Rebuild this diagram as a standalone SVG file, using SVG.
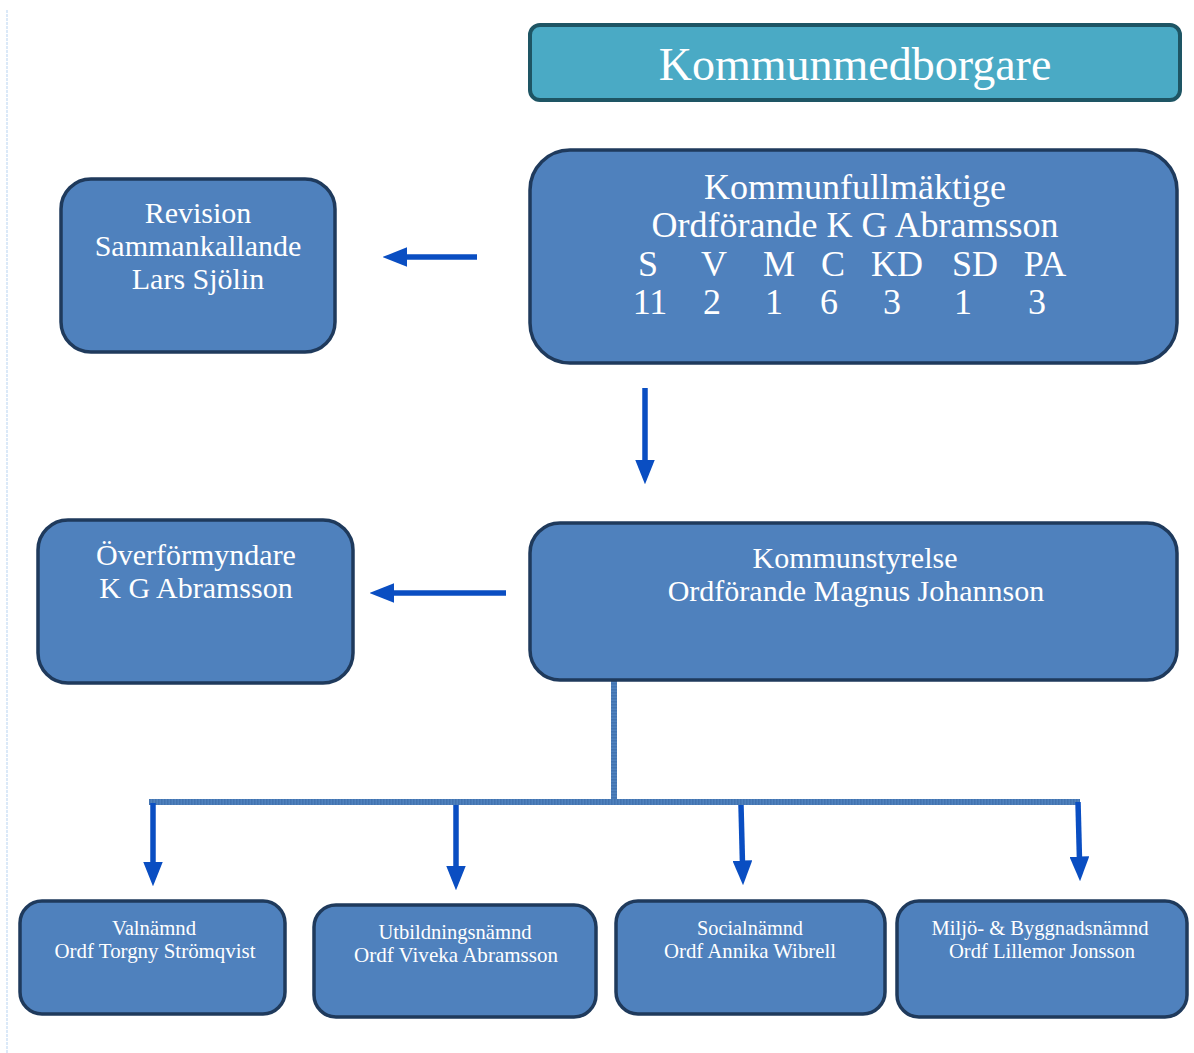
<svg xmlns="http://www.w3.org/2000/svg" width="1194" height="1053" viewBox="0 0 1194 1053">
<defs>
<marker id="ah" viewBox="0 0 10 8" refX="3" refY="4" markerWidth="4.5" markerHeight="3.6" markerUnits="strokeWidth" orient="auto">
<path d="M0,0 L10,4 L0,8 z" fill="#0a4ec2"/>
</marker>
<style>
.box{fill:#4f81bd;stroke:#1f3a5c;stroke-width:3.5}
.teal{fill:#4aaac5;stroke:#1e5564;stroke-width:4}
.t{font-family:"Liberation Serif","Times New Roman",serif;fill:#ffffff;text-anchor:middle}
.arr{stroke:#0a4ec2;stroke-width:5.5;fill:none;marker-end:url(#ah)}
.bus{stroke:#4f81bd;stroke-width:6;fill:none}
.busd{stroke:#3a6aa6;stroke-width:6;fill:none;stroke-dasharray:1.5 1.5;opacity:0.6}
</style>
</defs>
<rect width="1194" height="1053" fill="#ffffff"/>
<line x1="7" y1="10" x2="7" y2="1053" stroke="#cfe2f6" stroke-width="1.5" stroke-dasharray="3 1"/>

<g id="connectors">
<line class="arr" x1="477" y1="257" x2="400" y2="257"/>
<line class="arr" x1="645" y1="388" x2="645" y2="467"/>
<line class="arr" x1="506" y1="593" x2="387" y2="593"/>
<line class="bus" x1="614" y1="680" x2="614" y2="802"/>
<line class="busd" x1="614" y1="680" x2="614" y2="802"/>
<line class="bus" x1="149" y1="802" x2="1080" y2="802"/>
<line class="busd" x1="149" y1="802" x2="1080" y2="802"/>
<line class="arr" x1="153" y1="803" x2="153" y2="869"/>
<line class="arr" x1="456" y1="805" x2="456" y2="873"/>
<line class="arr" x1="741" y1="805" x2="742.6" y2="868"/>
<line class="arr" x1="1078" y1="802" x2="1079.6" y2="864"/>
</g>

<g id="kommunmedborgare">
<rect class="teal" x="530" y="25" width="650" height="75" rx="10"/>
<text class="t" x="855" y="80" font-size="46">Kommunmedborgare</text>
</g>

<g id="kommunfullmaktige">
<rect class="box" x="530" y="150" width="647" height="213" rx="40"/>
<text class="t" x="855" y="199" font-size="36">Kommunfullmäktige</text>
<text class="t" x="855" y="237" font-size="36">Ordförande K G Abramsson</text>
<g font-size="36">
<text class="t" x="648" y="276">S</text>
<text class="t" x="714" y="276">V</text>
<text class="t" x="779" y="276">M</text>
<text class="t" x="833" y="276">C</text>
<text class="t" x="897" y="276">KD</text>
<text class="t" x="975" y="276">SD</text>
<text class="t" x="1045" y="276">PA</text>
<text class="t" x="650" y="314">11</text>
<text class="t" x="712" y="314">2</text>
<text class="t" x="774" y="314">1</text>
<text class="t" x="829" y="314">6</text>
<text class="t" x="892" y="314">3</text>
<text class="t" x="963" y="314">1</text>
<text class="t" x="1037" y="314">3</text>
</g>
</g>

<g id="revision">
<rect class="box" x="61" y="179" width="274" height="173" rx="30"/>
<text class="t" x="198" y="223" font-size="30">Revision</text>
<text class="t" x="198" y="256" font-size="30">Sammankallande</text>
<text class="t" x="198" y="289" font-size="30">Lars Sjölin</text>
</g>

<g id="overformyndare">
<rect class="box" x="38" y="520" width="315" height="163" rx="30"/>
<text class="t" x="196" y="565" font-size="30">Överförmyndare</text>
<text class="t" x="196" y="598" font-size="30">K G Abramsson</text>
</g>

<g id="kommunstyrelse">
<rect class="box" x="530" y="523" width="647" height="157" rx="30"/>
<text class="t" x="855" y="568" font-size="30">Kommunstyrelse</text>
<text class="t" x="856" y="601" font-size="30">Ordförande Magnus Johannson</text>
</g>

<g id="valnamnd">
<rect class="box" x="20" y="901" width="265" height="113" rx="22"/>
<text class="t" x="154" y="935" font-size="22" textLength="84" lengthAdjust="spacingAndGlyphs">Valnämnd</text>
<text class="t" x="155" y="958" font-size="22" textLength="201" lengthAdjust="spacingAndGlyphs">Ordf Torgny Strömqvist</text>
</g>

<g id="utbildningsnamnd">
<rect class="box" x="314" y="905" width="282" height="112" rx="22"/>
<text class="t" x="455" y="939" font-size="22" textLength="153" lengthAdjust="spacingAndGlyphs">Utbildningsnämnd</text>
<text class="t" x="456" y="962" font-size="22" textLength="204" lengthAdjust="spacingAndGlyphs">Ordf Viveka Abramsson</text>
</g>

<g id="socialnamnd">
<rect class="box" x="616" y="901" width="269" height="113" rx="22"/>
<text class="t" x="750" y="935" font-size="22" textLength="106" lengthAdjust="spacingAndGlyphs">Socialnämnd</text>
<text class="t" x="750" y="958" font-size="22" textLength="172" lengthAdjust="spacingAndGlyphs">Ordf Annika Wibrell</text>
</g>

<g id="miljonamnd">
<rect class="box" x="897" y="901" width="290" height="116" rx="22"/>
<text class="t" x="1040" y="935" font-size="22" textLength="217" lengthAdjust="spacingAndGlyphs">Miljö- &amp; Byggnadsnämnd</text>
<text class="t" x="1042" y="958" font-size="22" textLength="186" lengthAdjust="spacingAndGlyphs">Ordf Lillemor Jonsson</text>
</g>
</svg>
